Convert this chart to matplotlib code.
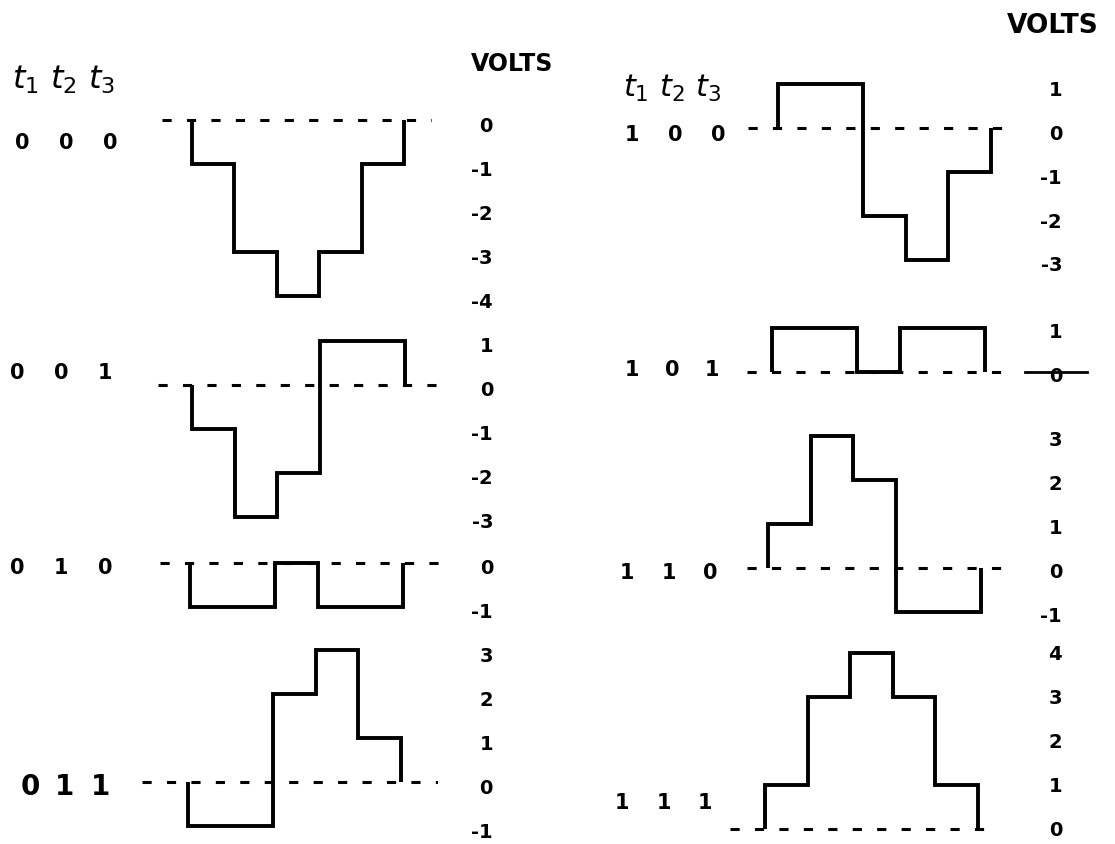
import numpy as np
import matplotlib
matplotlib.use("Agg")
import matplotlib.pyplot as plt
import matplotlib.transforms as mtransforms

# input codes (t1 t2 t3) and the output voltage in each of the 5 time slots
codes = ["000", "001", "010", "011", "100", "101", "110", "111"]
waves = [
    [-1, -3, -4, -3, -1],
    [-1, -3, -2, 1, 1],
    [-1, -1, 0, -1, -1],
    [-1, -1, 2, 3, 1],
    [1, 1, -2, -3, -1],
    [1, 1, 0, 1, 1],
    [1, 3, 2, -1, -1],
    [1, 3, 4, 3, 1],
]
volt_ticks = [
    [0, -1, -2, -3, -4],
    [1, 0, -1, -2, -3],
    [0, -1],
    [3, 2, 1, 0, -1],
    [1, 0, -1, -2, -3],
    [1, 0],
    [3, 2, 1, 0, -1],
    [4, 3, 2, 1, 0],
]

# layout, in pixels of the 1115x844 sheet
W, H = 1115, 844
SEG = 42.5   # px per time slot
VPX = 44.0   # px per volt
x0_px = [192, 192, 190, 188, 778, 772, 768, 765]
zero_px = [120, 385, 563, 782, 128, 372, 568, 829]
dash_px = [(162, 432), (158, 437), (160, 440), (142, 438),
           (748, 1013), (747, 1008), (747, 1005), (730, 985)]
label_right_px = [493, 493, 493, 493, 1062, 1062, 1062, 1062]
label_drop = [4, 4, 4, 4, 4, 2, 3, 0]
code_px = [(22, 110, 143), (17, 105, 373), (17, 105, 568), (30, 100, 787),
           (632, 718, 135), (632, 712, 370), (627, 710, 573), (622, 705, 803)]
code_size = [15, 15, 15, 20, 15, 15, 15, 15]

LW = 2.8
fig = plt.figure(figsize=(W / 100, H / 100), dpi=100)
fig.patch.set_facecolor("white")


def fx(px):
    return px / W


def fy(py):
    return 1 - py / H


for i, code in enumerate(codes):
    vals = waves[i]
    ticks = volt_ticks[i]
    x0 = x0_px[i]
    z = zero_px[i]
    left, right = dash_px[i]
    vlo = min(min(vals), min(ticks), 0) - 0.3
    vhi = max(max(vals), max(ticks), 0) + 0.3
    top = z - vhi * VPX
    bottom = z - vlo * VPX
    ax = fig.add_axes([fx(left), fy(bottom), (right - left) / W, (bottom - top) / H])
    ax.set_xlim((left - x0) / SEG, (right - x0) / SEG)
    ax.set_ylim(vlo, vhi)
    ax.patch.set_alpha(0)
    for s in ax.spines.values():
        s.set_visible(False)

    # dashed zero reference and the stepped waveform
    ax.axhline(0, color="black", lw=2.2, linestyle=(0, (3, 5)))
    ax.stairs(vals, np.arange(len(vals) + 1), baseline=0, color="black", lw=LW)
    if code == "101":
        ax.plot([(1025 - x0) / SEG, (1087 - x0) / SEG], [0, 0], color="black",
                lw=2, clip_on=False)

    # volt scale on the right
    ax.set_xticks([])
    ax.yaxis.tick_right()
    ax.set_yticks(ticks)
    ax.set_yticklabels([str(t) for t in ticks])
    pad = (label_right_px[i] - right) * 0.72
    ax.tick_params(axis="y", length=0, pad=pad, labelsize=14)
    shift = mtransforms.ScaledTranslation(0, -label_drop[i] / 100, fig.dpi_scale_trans)
    for lab in ax.get_yticklabels():
        lab.set_horizontalalignment("right")
        lab.set_fontweight("bold")
        lab.set_transform(lab.get_transform() + shift)

    # code label t1 t2 t3 on the left
    cl, cr, cy = code_px[i]
    for k, ch in enumerate(code):
        xx = cl + (cr - cl) * k / (len(code) - 1)
        fig.text(fx(xx), fy(cy), ch, ha="center", va="center",
                 fontsize=code_size[i], fontweight="bold")

# headers
fig.text(fx(12), fy(80), r"$t_1\ t_2\ t_3$", ha="left", va="center", fontsize=23)
fig.text(fx(623), fy(88), r"$t_1\ t_2\ t_3$", ha="left", va="center", fontsize=22)
fig.text(fx(512), fy(64), "VOLTS", ha="center", va="center", fontsize=17, fontweight="bold")
fig.text(fx(1053), fy(26), "VOLTS", ha="center", va="center", fontsize=19, fontweight="bold")

fig.savefig("out.png", dpi=100, facecolor="white")
